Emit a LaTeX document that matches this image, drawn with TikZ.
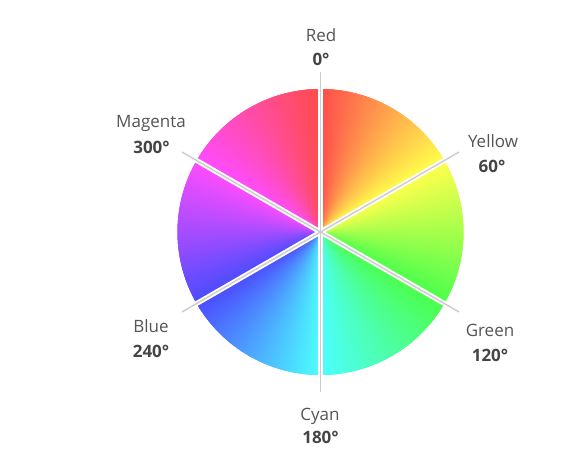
\documentclass[tikz,border=0pt]{standalone}
\usepackage{fontspec}
\setmainfont{Open Sans}
\usetikzlibrary{calc}
\definecolor{labelgray}{HTML}{555555}
\definecolor{deggray}{HTML}{444444}
\definecolor{spokegray}{HTML}{CCCCCC}
\begin{document}
\begin{tikzpicture}[x=1pt,y=1pt,
  lbl/.style={text=labelgray, font=\fontsize{17}{20}\selectfont, inner sep=0pt, anchor=base},
  deg/.style={text=deggray, font=\fontsize{17}{20}\selectfont\bfseries, inner sep=0pt, anchor=base},
  gapline/.style={white, line width=5pt},
  spoke/.style={spokegray, line width=1.4pt}]
\useasboundingbox (0,0) rectangle (588,-471);
\coordinate (c) at (320.5,-232);
% colour wheel: overlapping wedges, each later one covering the previous seam
\foreach \i in {0,...,359}{
  \pgfmathsetmacro\hh{\i/360}
  \pgfmathsetmacro\ee{min(\i+2.5,359.5)}
  \definecolor{wc}{hsb}{\hh,0.7,1}
  \fill[wc, shift={(320.5,-232)}] (0,0) -- (90-\i+0.5:143)
    arc[start angle=90-\i+0.5, end angle=90-\ee, radius=143] -- cycle;
}
% spokes
\foreach \k/\a in {0/90,1/30,2/-30,3/-90,4/-150,5/150}{
  \coordinate (g\k) at ($(c)+(\a:146)$);
  \coordinate (s\k) at ($(c)+(\a:160)$);
  \draw[gapline] (c) -- (g\k);
}
\foreach \k in {0,...,5}{
  \draw[spoke] (c) -- (s\k);
}
% labels
\node[lbl] (nred) at (321,-41) {Red};
\node[deg] (dred) at (321,-65) {0°};
\node[lbl] (nyel) at (493,-147) {Yellow};
\node[deg] (dyel) at (492,-172) {60°};
\node[lbl] (ngre) at (490,-336) {Green};
\node[deg] (dgre) at (490,-361) {120°};
\node[lbl] (ncya) at (320,-420) {Cyan};
\node[deg] (dcya) at (320.5,-443) {180°};
\node[lbl] (nblu) at (151,-332) {Blue};
\node[deg] (dblu) at (151,-357) {240°};
\node[lbl] (nmag) at (151,-127) {Magenta};
\node[deg] (dmag) at (151.5,-153) {300°};
\end{tikzpicture}
\end{document}
